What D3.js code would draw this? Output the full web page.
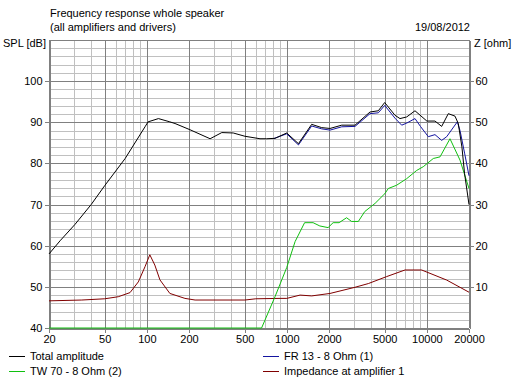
<!DOCTYPE html>
<html><head><meta charset="utf-8">
<script src="https://cdn.jsdelivr.net/npm/d3@7/dist/d3.min.js"></script>
<style>
body{margin:0;background:#fff}
text{font-family:"Liberation Sans",Arial,sans-serif;font-size:11px;fill:#000}
</style>
</head><body>
<svg id="c" width="517" height="390"></svg>
<script>
// ---- data ----
const totalFreq = [20, 24, 30.7, 40, 50, 70, 97, 102, 121, 146, 159, 203, 283, 343, 414, 502, 643, 718, 823, 998, 1210, 1504, 1774, 2034, 2466, 3068, 3926, 4500, 5000, 5920, 6428, 7180, 8228, 10000, 11430, 12760, 14230, 15880, 16770, 17800, 18600, 20000];
const totalSPL  = [58.0, 61.2, 65.2, 70.0, 74.6, 81.2, 88.9, 90.1, 90.9, 90.1, 89.7, 88.2, 86.0, 87.5, 87.4, 86.6, 86.0, 86.0, 86.1, 87.4, 84.8, 89.5, 88.7, 88.5, 89.3, 89.3, 92.5, 92.8, 94.8, 91.7, 90.9, 91.3, 92.8, 90.3, 90.3, 89.0, 92.1, 91.5, 89.7, 84.0, 77.5, 70.0];

const fr13Freq = [800, 998, 1210, 1504, 1774, 2034, 2466, 3068, 3926, 4500, 5000, 5920, 6610, 7180, 8228, 9000, 10240, 11430, 12760, 13860, 16500, 17250, 18600, 20000];
const fr13SPL  = [86.0, 87.2, 84.5, 89.1, 88.4, 88.1, 88.9, 89.0, 92.1, 92.3, 94.1, 91.0, 89.3, 89.8, 90.9, 89.0, 86.5, 87.0, 85.6, 86.5, 90.1, 88.0, 82.5, 77.0];

const tw70Freq = [20, 660, 823, 998, 1145, 1339, 1539, 1720, 1970, 2140, 2360, 2670, 2900, 3240, 3600, 4270, 5025, 5300, 6080, 7180, 8460, 9420, 11120, 12420, 14630, 17250, 20000];
const tw70SPL  = [40, 40, 47.6, 54.7, 61.0, 65.6, 65.6, 64.8, 64.4, 65.6, 65.6, 66.8, 65.9, 65.9, 68.3, 70.3, 72.7, 73.9, 74.7, 76.3, 78.3, 79.2, 81.2, 81.6, 86.0, 80.8, 73.9];

const impFreq = [20, 34.3, 50, 62.5, 75.8, 86.9, 97, 105, 114, 124, 146, 187, 221, 502, 600, 894, 1000, 1242, 1504, 2034, 3068, 3818, 5166, 6980, 9180, 13860, 20000];
const impOhm  = [6.6, 6.8, 7.1, 7.6, 8.6, 11.2, 14.9, 17.8, 15.3, 11.7, 8.4, 7.2, 6.8, 6.8, 7.1, 7.2, 7.2, 8.0, 7.8, 8.4, 9.9, 10.8, 12.5, 14.1, 14.1, 11.65, 8.7];

const freqTicks = [20, 50, 100, 200, 500, 1000, 2000, 5000, 10000, 20000];
const splTicks  = [40, 50, 60, 70, 80, 90, 100];
const ohmTicks  = [10, 20, 30, 40, 50, 60];

const seriesNames = ["Total amplitude", "FR 13 - 8 Ohm (1)", "TW 70 - 8 Ohm (2)", "Impedance at amplifier 1"];
const seriesColors = ["#000000", "#1414a0", "#10c010", "#800000"];

// ---- layout ----
const L = 49, R = 469, T = 40, B = 328;
const svg = d3.select("#c");
const x = d3.scaleLog().domain([20, 20000]).range([L, R]);
const y = d3.scaleLinear().domain([40, 110]).range([B, T]).clamp(true);
const yZ = d3.scaleLinear().domain([0, 70]).range([B, T]);
const px = v => Math.round(v) + 0.5;

// grid
const g = svg.append("g").attr("shape-rendering", "crispEdges");
const vMinor = [], vMajor = [];
[10, 100, 1000, 10000].forEach(dec => {
  for (let k = 1; k <= 9; k++) {
    const f = dec * k;
    if (f < 20 || f > 20000) continue;
    (freqTicks.includes(f) ? vMajor : vMinor).push(f);
  }
});
const hMinor = [], hMajor = [];
for (let d = 40; d <= 110; d += 2) (d % 10 === 0 ? hMajor : hMinor).push(d);

g.selectAll(".hmin").data(hMinor).join("line")
  .attr("x1", L).attr("x2", R).attr("y1", d => px(y(d))).attr("y2", d => px(y(d)))
  .attr("stroke", "#c0c0c0");
g.selectAll(".vmin").data(vMinor).join("line")
  .attr("y1", T).attr("y2", B).attr("x1", d => px(x(d))).attr("x2", d => px(x(d)))
  .attr("stroke", "#c0c0c0");
g.selectAll(".hmaj").data(hMajor).join("line")
  .attr("x1", L).attr("x2", R).attr("y1", d => px(y(d))).attr("y2", d => px(y(d)))
  .attr("stroke", "#808080");
g.selectAll(".vmaj").data(vMajor).join("line")
  .attr("y1", T).attr("y2", B).attr("x1", d => px(x(d))).attr("x2", d => px(x(d)))
  .attr("stroke", "#808080");

// axes
function styleAxis(sel) {
  sel.attr("shape-rendering", "crispEdges");
  sel.selectAll("path,line").attr("stroke", "#808080");
  sel.selectAll("text").attr("fill", "#000")
    .style("font-family", '"Liberation Sans",Arial,sans-serif').style("font-size", "11px");
}
svg.append("g").attr("transform", `translate(${Math.round(L)+0.5},0)`)
  .call(d3.axisLeft(y).tickValues(splTicks).tickSize(5).tickSizeOuter(0).tickPadding(2))
  .call(styleAxis);
svg.append("g").attr("transform", `translate(${Math.round(R)+0.5},0)`)
  .call(d3.axisRight(yZ).tickValues(ohmTicks).tickSize(4).tickSizeOuter(0).tickPadding(2))
  .call(styleAxis);
svg.append("g").attr("transform", `translate(0,${Math.round(B)+0.5})`)
  .call(d3.axisBottom(x).tickValues(freqTicks).tickFormat(d3.format("d")).tickSize(4).tickSizeOuter(0).tickPadding(3))
  .call(styleAxis);

// curves
const lineSPL = d3.line().x(d => x(d[0])).y(d => y(d[1]));
const lineZ = d3.line().x(d => x(d[0])).y(d => yZ(d[1]));
const zip = (a, b) => a.map((v, i) => [v, b[i]]);

svg.append("path").datum(zip(impFreq, impOhm)).attr("d", lineZ)
  .attr("fill", "none").attr("stroke", seriesColors[3]).attr("stroke-width", 1);
svg.append("path").datum(zip(tw70Freq, tw70SPL)).attr("d", lineSPL)
  .attr("fill", "none").attr("stroke", seriesColors[2]).attr("stroke-width", 1);
svg.append("path").datum(zip(fr13Freq, fr13SPL)).attr("d", lineSPL)
  .attr("fill", "none").attr("stroke", seriesColors[1]).attr("stroke-width", 1);
svg.append("path").datum(zip(totalFreq, totalSPL)).attr("d", lineSPL)
  .attr("fill", "none").attr("stroke", seriesColors[0]).attr("stroke-width", 1);

// texts
svg.append("text").attr("x", 50).attr("y", 17).text("Frequency response whole speaker");
svg.append("text").attr("x", 50).attr("y", 31).text("(all amplifiers and drivers)");
svg.append("text").attr("x", 3).attr("y", 47).text("SPL [dB]");
svg.append("text").attr("x", 470).attr("y", 31).attr("text-anchor", "end").text("19/08/2012");
svg.append("text").attr("x", 474).attr("y", 47).text("Z [ohm]");

// legend
const legPos = [[9, 356], [263, 356], [9, 371], [263, 371]];
seriesNames.forEach((n, i) => {
  const [lx, ly] = legPos[i];
  svg.append("line").attr("x1", lx).attr("x2", lx + 16).attr("y1", ly + 0.5).attr("y2", ly + 0.5)
    .attr("stroke", seriesColors[i]).attr("shape-rendering", "crispEdges");
  svg.append("text").attr("x", lx + 21).attr("y", ly + 4).text(n);
});
</script>
</body></html>
